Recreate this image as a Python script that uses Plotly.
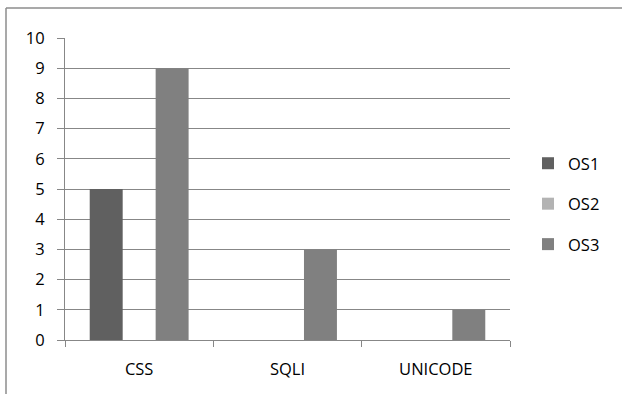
import plotly.graph_objects as go

categories = ["CSS", "SQLI", "UNICODE"]
os1 = [5, 0, 0]
os2 = [0, 0, 0]
os3 = [9, 3, 1]
series_names = ["OS1", "OS2", "OS3"]
series_colors = ["#606060", "#b3b3b3", "#808080"]
y_ticks = list(range(0, 11))

W, H = 622, 394
L, R, T, B = 65, 112, 38, 54
pw, ph = W - L - R, H - T - B

fig = go.Figure()
for name, vals, col in zip(series_names, [os1, os2, os3], series_colors):
    fig.add_trace(go.Bar(
        x=categories, y=vals, name=name, legendgroup=name,
        marker=dict(color=col, line=dict(width=0)),
    ))

def px_x(p):
    return (p - L) / pw

def px_y(p):
    return (H - B - p) / ph

# frame around the chart: top and left edges
border = dict(color="#8c8c8c", width=1.5)
fig.add_shape(type="line", xref="paper", yref="paper",
              x0=px_x(6), x1=px_x(W + 2), y0=px_y(8), y1=px_y(8), line=border)
fig.add_shape(type="line", xref="paper", yref="paper",
              x0=px_x(6), x1=px_x(6), y0=px_y(8), y1=px_y(H + 2), line=border)

font = dict(family="Open Sans, Liberation Sans, sans-serif", size=16.5, color="#000000")

fig.update_layout(
    width=W, height=H,
    margin=dict(l=L, r=R, t=T, b=B, pad=0),
    plot_bgcolor="white", paper_bgcolor="white",
    barmode="group", bargap=1.5 / 4.5, bargroupgap=0,
    font=font,
    showlegend=True,
    legend=dict(x=px_x(528), y=px_y(146), xanchor="left", yanchor="top",
                traceorder="grouped", tracegroupgap=16,
                font=font, bgcolor="rgba(0,0,0,0)", itemclick=False),
    xaxis=dict(
        type="category", tickson="boundaries", ticks="outside", ticklen=6,
        tickcolor="#878787", showline=True, linecolor="#878787", linewidth=1,
        showgrid=False, ticklabelstandoff=14,
    ),
    yaxis=dict(
        range=[0, 10], tickvals=y_ticks, ticks="outside", ticklen=7,
        tickcolor="#878787", showline=True, linecolor="#878787", linewidth=1,
        showgrid=True, gridcolor="#878787", gridwidth=1, zeroline=False,
        ticklabelstandoff=9,
    ),
)

fig.write_html("out.html")
